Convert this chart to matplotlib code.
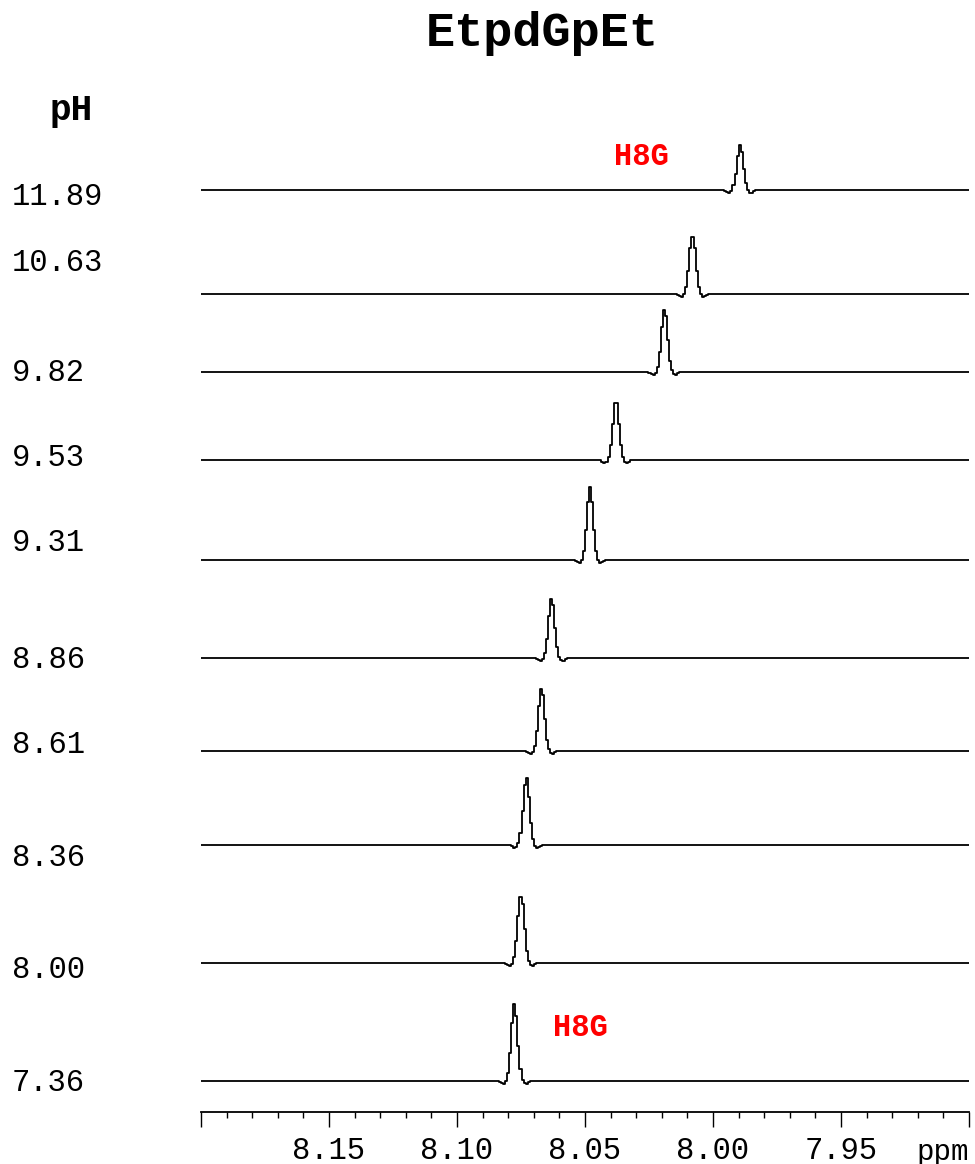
import numpy as np
import matplotlib
matplotlib.use("Agg")
import matplotlib.pyplot as plt
import matplotlib.transforms as mtransforms

# pH of each spectrum, top to bottom
ph_labels = ["11.89", "10.63", "9.82", "9.53", "9.31", "8.86", "8.61", "8.36", "8.00", "7.36"]
# H8G chemical shift (ppm) at each pH
peak_ppm = [7.9895, 8.008, 8.019, 8.038, 8.048, 8.063, 8.067, 8.073, 8.075, 8.0775]
# peak intensity (arbitrary units)
peak_height = [45, 57, 63, 60, 73, 60, 63, 68, 67, 77]

tick_vals = [8.20, 8.15, 8.10, 8.05, 8.00, 7.95, 7.90]
tick_text = ["", "8.15", "8.10", "8.05", "8.00", "7.95", ""]

# stacking offsets of each trace and where its pH label sits
offsets = [922, 818, 740, 652, 552, 454, 361, 267, 149, 31]
label_y = [915, 849, 739, 654, 569, 452, 367, 254, 142, 29]

mono = "Liberation Mono"

fig = plt.figure(figsize=(9.75, 11.64), dpi=100)
ax = fig.add_axes([201 / 975, 52 / 1164, 768 / 975, 982 / 1164])

# sampled ppm grid, coarse like the raw data
x = np.arange(7.90, 8.2001, 0.0008)
for pos, h, off in zip(peak_ppm, peak_height, offsets):
    y = h * np.exp(-0.5 * ((x - pos) / 0.0012) ** 2)
    y -= 3 * np.exp(-0.5 * ((np.abs(x - pos) - 0.0042) / 0.0009) ** 2)
    ax.plot(x, y + off, color="black", lw=1.3, drawstyle="steps-mid")

ax.set_xlim(8.20, 7.90)
ax.set_ylim(0, 982)
for s in ["top", "left", "right"]:
    ax.spines[s].set_visible(False)
ax.spines["bottom"].set_linewidth(1.3)
ax.set_yticks([])
ax.set_xticks(tick_vals)
ax.set_xticklabels(tick_text, fontfamily=mono, fontsize=22)
ax.set_xticks(np.arange(7.90, 8.2001, 0.01), minor=True)
ax.tick_params(axis="x", which="major", length=11, width=1.0, pad=6)
ax.tick_params(axis="x", which="minor", length=4.5, width=1.0)
ax.text(7.90, -40, "ppm", ha="right", va="center", fontfamily=mono, fontsize=21)

# pH labels on the left
trans = mtransforms.blended_transform_factory(fig.transFigure, ax.transData)
for lab, yy in zip(ph_labels, label_y):
    ax.text(12 / 975, yy, lab, transform=trans, ha="left", va="center",
            fontfamily=mono, fontsize=22, clip_on=False)

fig.text(542 / 975, 1 - 33 / 1164, "EtpdGpEt", ha="center", va="center",
         fontfamily=mono, fontweight="bold", fontsize=35)
fig.text(71 / 975, 1 - 111 / 1164, "pH", ha="center", va="center",
         fontfamily=mono, fontweight="bold", fontsize=26)

ax.text(8.0281, 955, "H8G", color="red", ha="center", va="center",
        fontfamily=mono, fontweight="bold", fontsize=22)
ax.text(8.052, 84, "H8G", color="red", ha="center", va="center",
        fontfamily=mono, fontweight="bold", fontsize=22)

fig.savefig("out.png", dpi=100)
